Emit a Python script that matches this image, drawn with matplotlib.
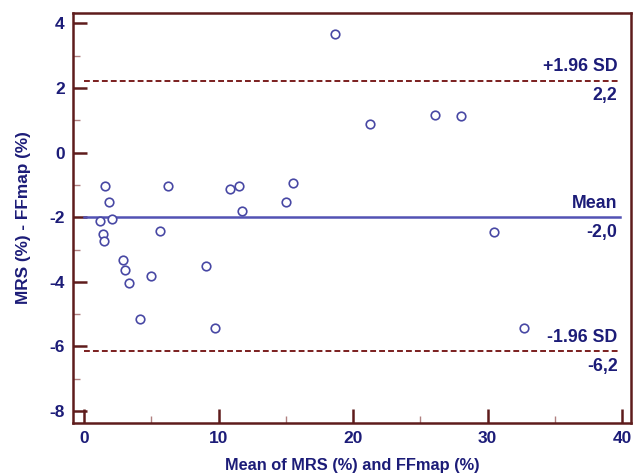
import matplotlib
matplotlib.use("Agg")
import matplotlib.pyplot as plt
from matplotlib.ticker import MultipleLocator

# Data
mean_vals = [1.54, 1.84, 1.19, 2.06, 1.39, 1.46, 2.88, 3.05, 3.37, 5.00, 4.14,
             6.22, 5.63, 9.09, 9.74, 10.88, 11.55, 11.75, 18.69, 21.29, 15.51,
             14.99, 26.12, 28.03, 30.48, 32.71]
diff_vals = [-1.03, -1.54, -2.12, -2.04, -2.53, -2.73, -3.31, -3.64, -4.03, -3.81, -5.14,
             -1.03, -2.43, -3.52, -5.44, -1.13, -1.03, -1.82, 3.66, 0.87, -0.94,
             -1.54, 1.17, 1.14, -2.45, -5.44]
mean_diff = -2.0
upper_loa = 2.23
lower_loa = -6.15
upper_lbl = ["+1.96 SD", "2,2"]
mean_lbl = ["Mean", "-2,0"]
lower_lbl = ["-1.96 SD", "-6,2"]
x_label = "Mean of MRS (%) and FFmap (%)"
y_label = "MRS (%) - FFmap (%)"

plt.rcParams['font.family'] = ['Liberation Sans', 'DejaVu Sans']
plt.rcParams['axes.unicode_minus'] = False

spine_c = '#5e1c1c'
text_c = '#1c1c78'
mark_c = '#4848a4'
line_c = '#5252b4'
dash_c = '#7a1e1e'

fig = plt.figure(figsize=(6.33, 4.76), dpi=100)
ax = fig.add_axes([0.1153, 0.1113, 0.8815, 0.862])

ax.set_xlim(-0.82, 40.65)
ax.set_ylim(-8.37, 4.33)

ax.scatter(mean_vals, diff_vals, s=38, facecolors='white', edgecolors=mark_c,
           linewidths=1.2, zorder=3)

x0, x1 = 0, 39.8
ax.plot([x0, x1], [mean_diff, mean_diff], color=line_c, lw=1.8, zorder=2)
ax.plot([x0, x1], [upper_loa, upper_loa], color=dash_c, lw=1.4, ls=(0, (3, 1.6)), zorder=2)
ax.plot([x0, x1], [lower_loa, lower_loa], color=dash_c, lw=1.4, ls=(0, (3, 1.6)), zorder=2)

tx = 39.65
fs = 12.8
for yv, (top, bot) in [(upper_loa, upper_lbl), (mean_diff, mean_lbl), (lower_loa, lower_lbl)]:
    ax.text(tx, yv + 0.16, top, ha='right', va='bottom', color=text_c,
            fontsize=fs, fontweight='bold')
    ax.text(tx, yv - 0.2, bot, ha='right', va='top', color=text_c,
            fontsize=fs, fontweight='bold')

ax.xaxis.set_major_locator(MultipleLocator(10))
ax.xaxis.set_minor_locator(MultipleLocator(5))
ax.yaxis.set_major_locator(MultipleLocator(2))
ax.yaxis.set_minor_locator(MultipleLocator(1))

ax.tick_params(which='major', direction='in', length=10, width=1.8, color=spine_c,
               labelsize=12.5, labelcolor=text_c, pad=6)
ax.tick_params(which='minor', direction='in', length=5, width=1.0, color='#b08080')
for lab in ax.get_xticklabels() + ax.get_yticklabels():
    lab.set_fontweight('bold')

for s in ax.spines.values():
    s.set_color(spine_c)
    s.set_linewidth(1.8)

ax.set_xlabel(x_label, color=text_c, fontsize=11.8, fontweight='bold', labelpad=8.5)
ax.set_ylabel(y_label, color=text_c, fontsize=12.4, fontweight='bold', labelpad=13)

fig.savefig('out.png', dpi=100)
